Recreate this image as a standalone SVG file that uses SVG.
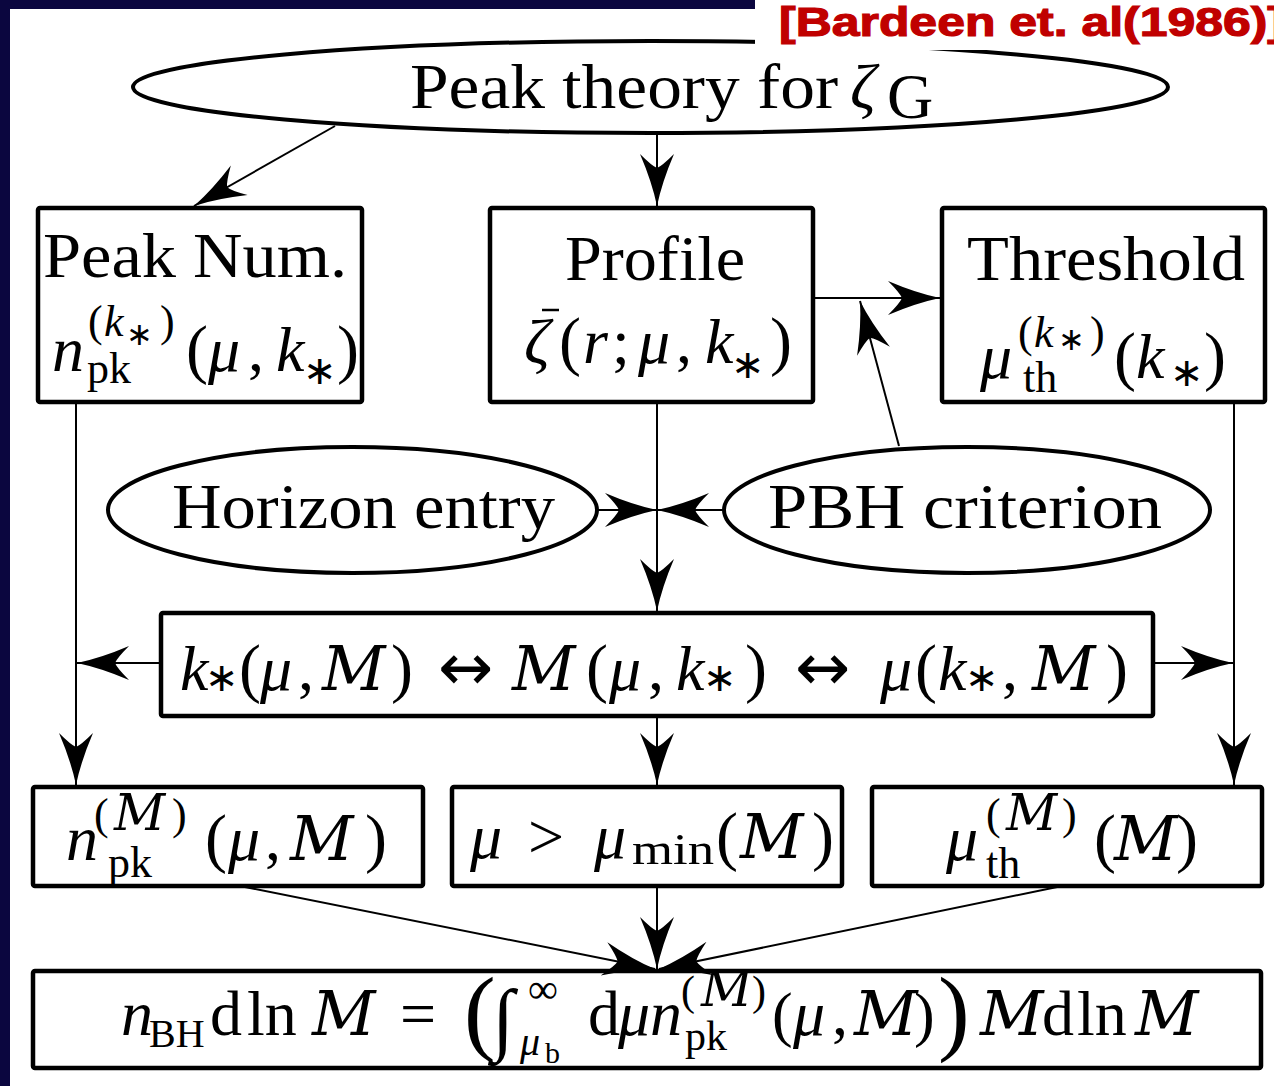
<svg xmlns="http://www.w3.org/2000/svg" width="1274" height="1086" viewBox="0 0 1274 1086">
<style>
.m{font-family:"Liberation Serif","DejaVu Serif",serif;fill:#000;font-size:64px}
.i{font-style:italic}
.s{font-size:44px}
.ss{font-size:32px}
.M{font-family:"DejaVu Serif",serif;font-style:italic;font-size:62px}
.Ms{font-family:"DejaVu Serif",serif;font-style:italic;font-size:50px}
.ast{font-family:"DejaVu Sans",sans-serif;font-size:40px}
.ast2{font-family:"DejaVu Sans",sans-serif;font-size:32px}
.arr{font-family:"DejaVu Sans",sans-serif;font-size:66px}
.par{font-size:66px}
.box{fill:#fff;stroke:#000;stroke-width:4.5}
.ell{fill:#fff;stroke:#000;stroke-width:4}
.con line{stroke:#000;stroke-width:2;marker-end:url(#ah)}
</style>
<defs>
<marker id="ah" viewBox="-54 -18 56 36" refX="0" refY="0" markerWidth="56" markerHeight="36" markerUnits="userSpaceOnUse" orient="auto">
<path d="M0,0 Q-24,-5 -52,-17 Q-40,-5 -38,0 Q-40,5 -52,17 Q-24,5 0,0 Z" fill="#000"/>
</marker>
</defs>
<rect x="0" y="0" width="1274" height="1086" fill="#fff"/>
<rect x="0" y="0" width="10" height="1086" fill="#0b063f"/>
<rect x="0" y="0" width="760" height="9" fill="#0b063f"/>

<g id="peak-theory">
<ellipse class="ell" cx="650.5" cy="87" rx="517.5" ry="46"/>
<text class="m" x="410" y="108" textLength="428" lengthAdjust="spacingAndGlyphs">Peak theory for</text>
<text class="m i" x="850" y="108">ζ</text>
<text class="m" x="887" y="118" font-size="46">G</text>
</g>

<g id="peak-num">
<rect class="box" x="38" y="208" width="324" height="194" rx="2"/>
<text class="m" x="43" y="277" textLength="304" lengthAdjust="spacingAndGlyphs">Peak Num.</text>
<text class="m"><tspan class="i" x="52" y="371">n</tspan><tspan class="s" x="88" y="336">(</tspan><tspan class="s i" x="104" y="336">k</tspan><tspan class="ast2" x="126" y="345">∗</tspan><tspan class="s" x="160" y="336">)</tspan><tspan class="s" x="87" y="383">pk</tspan><tspan class="par" x="186" y="371">(</tspan><tspan class="i" x="208" y="371">μ</tspan><tspan x="248" y="371">,</tspan><tspan class="i" x="276" y="371">k</tspan><tspan class="ast" x="303" y="384">∗</tspan><tspan class="par" x="337" y="371">)</tspan></text>
</g>

<g id="profile">
<rect class="box" x="490" y="208" width="323" height="194" rx="2"/>
<text class="m" x="565" y="280" textLength="180" lengthAdjust="spacingAndGlyphs">Profile</text>
<line x1="542" y1="310" x2="559" y2="310" stroke="#000" stroke-width="2.5"/>
<text class="m"><tspan class="i" x="524" y="363">ζ</tspan><tspan class="par" x="559" y="363">(</tspan><tspan class="i" x="583" y="363">r</tspan><tspan x="612" y="363">;</tspan><tspan class="i" x="638" y="363">μ</tspan><tspan x="676" y="363">,</tspan><tspan class="i" x="705" y="363">k</tspan><tspan class="ast" x="731" y="378">∗</tspan><tspan class="par" x="770" y="363">)</tspan></text>
</g>

<g id="threshold">
<rect class="box" x="942" y="208" width="323" height="194" rx="2"/>
<text class="m" x="967" y="280" textLength="278" lengthAdjust="spacingAndGlyphs">Threshold</text>
<text class="m"><tspan class="i" x="980" y="378">μ</tspan><tspan class="s" x="1018" y="347">(</tspan><tspan class="s i" x="1034" y="347">k</tspan><tspan class="ast2" x="1058" y="350">∗</tspan><tspan class="s" x="1090" y="347">)</tspan><tspan class="s" x="1023" y="392">th</tspan><tspan class="par" x="1114" y="378">(</tspan><tspan class="i" x="1136" y="378">k</tspan><tspan class="ast" x="1170" y="386">∗</tspan><tspan class="par" x="1204" y="378">)</tspan></text>
</g>

<g id="horizon-entry">
<ellipse class="ell" cx="352.5" cy="510" rx="244.5" ry="63"/>
<text class="m" x="172" y="528" textLength="383" lengthAdjust="spacingAndGlyphs">Horizon entry</text>
</g>

<g id="pbh-criterion">
<ellipse class="ell" cx="967" cy="510" rx="243" ry="63"/>
<text class="m" x="768" y="528" textLength="394" lengthAdjust="spacingAndGlyphs">PBH criterion</text>
</g>

<g id="mass-relation">
<rect class="box" x="161" y="613" width="992" height="103" rx="2"/>
<text class="m"><tspan class="i" x="180" y="690">k</tspan><tspan class="ast" x="205" y="691">∗</tspan><tspan class="par" x="239" y="690">(</tspan><tspan class="i" x="260" y="690">μ</tspan><tspan x="298" y="690">,</tspan><tspan class="M" x="322" y="690">M</tspan><tspan class="par" x="391" y="690">)</tspan><tspan class="arr" x="438" y="690">↔</tspan><tspan class="M" x="512" y="690">M</tspan><tspan class="par" x="586" y="690">(</tspan><tspan class="i" x="609" y="690">μ</tspan><tspan x="648" y="690">,</tspan><tspan class="i" x="676" y="690">k</tspan><tspan class="ast" x="703" y="691">∗</tspan><tspan class="par" x="745" y="690">)</tspan><tspan class="arr" x="795" y="690">↔</tspan><tspan class="i" x="880" y="690">μ</tspan><tspan class="par" x="915" y="690">(</tspan><tspan class="i" x="938" y="690">k</tspan><tspan class="ast" x="965" y="691">∗</tspan><tspan x="1002" y="690">,</tspan><tspan class="M" x="1032" y="690">M</tspan><tspan class="par" x="1106" y="690">)</tspan></text>
</g>

<g id="n-pk-M">
<rect class="box" x="33" y="787" width="390" height="99" rx="2"/>
<text class="m"><tspan class="i" x="66" y="860">n</tspan><tspan class="s" x="94" y="829">(</tspan><tspan class="Ms" x="114" y="830">M</tspan><tspan class="s" x="172" y="829">)</tspan><tspan class="s" x="108" y="877">pk</tspan><tspan class="par" x="205" y="860">(</tspan><tspan class="i" x="228" y="860">μ</tspan><tspan x="265" y="860">,</tspan><tspan class="M" x="290" y="860">M</tspan><tspan class="par" x="365" y="860">)</tspan></text>
</g>

<g id="mu-min">
<rect class="box" x="452" y="787" width="390" height="99" rx="2"/>
<text class="m"><tspan class="i" x="470" y="858">μ</tspan><tspan x="528" y="858">&gt;</tspan><tspan class="i" x="594" y="858">μ</tspan><tspan class="s" x="632" y="864" textLength="82" lengthAdjust="spacingAndGlyphs">min</tspan><tspan class="par" x="716" y="858">(</tspan><tspan class="M" x="740" y="858">M</tspan><tspan class="par" x="812" y="858">)</tspan></text>
</g>

<g id="mu-th-M">
<rect class="box" x="872" y="787" width="390" height="99" rx="2"/>
<text class="m"><tspan class="i" x="946" y="860">μ</tspan><tspan class="s" x="986" y="829">(</tspan><tspan class="Ms" x="1006" y="830">M</tspan><tspan class="s" x="1062" y="829">)</tspan><tspan class="s" x="986" y="878">th</tspan><tspan class="par" x="1094" y="860">(</tspan><tspan class="M" x="1114" y="860">M</tspan><tspan class="par" x="1176" y="860">)</tspan></text>
</g>

<g id="n-bh">
<rect class="box" x="33" y="971" width="1228" height="97" rx="2"/>
<text class="m" font-size="58"><tspan class="i" x="121" y="1035">n</tspan><tspan x="149" y="1047" font-size="40">BH</tspan><tspan x="210" y="1035">d</tspan><tspan x="247" y="1035">ln</tspan><tspan class="M" x="312" y="1035" font-size="58">M</tspan><tspan x="400" y="1035">=</tspan><tspan x="464" y="1043" font-size="95">(</tspan><tspan x="492" y="1045" font-size="80">∫</tspan><tspan x="528" y="1003" font-size="42">∞</tspan><tspan class="i" x="520" y="1055" font-size="40">μ</tspan><tspan x="545" y="1063" font-size="30">b</tspan><tspan x="588" y="1035">d</tspan><tspan class="i" x="618" y="1035">μ</tspan><tspan class="i" x="650" y="1035">n</tspan><tspan x="681" y="1005" font-size="42">(</tspan><tspan class="Ms" x="701" y="1006" font-size="46">M</tspan><tspan x="752" y="1005" font-size="42">)</tspan><tspan x="685" y="1050" font-size="42">pk</tspan><tspan x="772" y="1035" font-size="62">(</tspan><tspan class="i" x="793" y="1035">μ</tspan><tspan x="832" y="1035">,</tspan><tspan class="M" x="854" y="1035" font-size="58">M</tspan><tspan x="914" y="1035" font-size="62">)</tspan><tspan x="938" y="1043" font-size="95">)</tspan><tspan class="M" x="980" y="1035" font-size="58">M</tspan><tspan x="1042" y="1035">d</tspan><tspan x="1077" y="1035">ln</tspan><tspan class="M" x="1135" y="1035" font-size="58">M</tspan></text>
</g>

<g id="connectors" class="con">
<line x1="335" y1="126" x2="194" y2="206"/>
<line x1="657" y1="134" x2="657" y2="206"/>
<line x1="813" y1="298" x2="940" y2="298"/>
<line x1="899" y1="446" x2="860" y2="301"/>
<line x1="76" y1="402" x2="76" y2="785"/>
<line x1="657" y1="402" x2="657" y2="611"/>
<line x1="597" y1="510" x2="657" y2="510"/>
<line x1="724" y1="510" x2="657" y2="510"/>
<line x1="160" y1="663" x2="77" y2="663"/>
<line x1="1153" y1="663" x2="1233" y2="663"/>
<line x1="1234" y1="402" x2="1234" y2="785"/>
<line x1="657" y1="716" x2="657" y2="785"/>
<line x1="240" y1="886" x2="655" y2="969"/>
<line x1="657" y1="886" x2="657" y2="969"/>
<line x1="1062" y1="886" x2="659" y2="969"/>
</g>

<g id="citation">
<rect x="755" y="0" width="519" height="50" fill="#fff"/>
<text x="779" y="36" font-family="Liberation Sans,Arial,sans-serif" font-weight="bold" font-size="41" fill="#c00000" stroke="#c00000" stroke-width="1.2" textLength="505" lengthAdjust="spacingAndGlyphs">[Bardeen et. al(1986)]</text>
</g>
</svg>
